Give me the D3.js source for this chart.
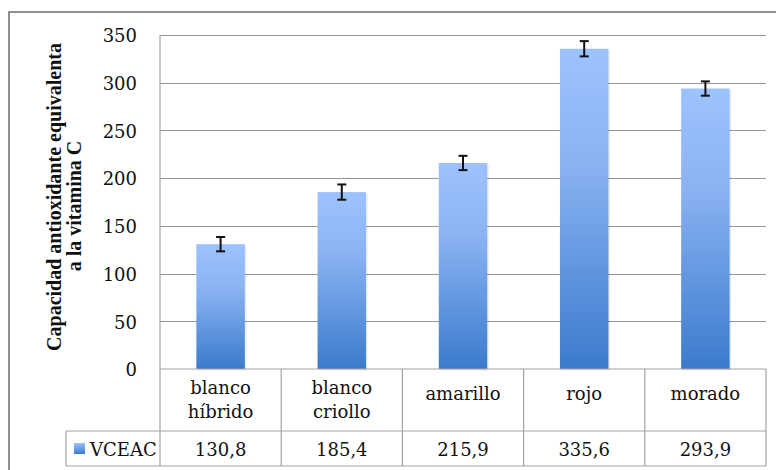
<!DOCTYPE html>
<html><head><meta charset="utf-8">
<script src="https://cdn.jsdelivr.net/npm/d3@7"></script>
<style>html,body{margin:0;padding:0;background:#fff;} svg{display:block;}</style>
</head><body>
<svg id="chart" width="776" height="470"></svg>
<script>
const categories = [["blanco","híbrido"],["blanco","criollo"],["amarillo"],["rojo"],["morado"]];
const values = [130.8, 185.4, 215.9, 335.6, 293.9];
const valueLabels = ["130,8","185,4","215,9","335,6","293,9"];
const errors = [7.5, 8, 7.5, 8, 7.5];
const yTicks = [0, 50, 100, 150, 200, 250, 300, 350];
const seriesName = "VCEAC";
const yTitle = ["Capacidad antioxidante equivalenta", "a la vitamina C"];

const svg = d3.select("#chart");
const pLeft = 160, pRight = 766, pTop = 35, pBottom = 369;
const row1 = 431, row2 = 466, legendLeft = 66;
const serif = "'DejaVu Serif', serif";
const gridColor = "#959595", lineColor = "#a3a3a3";

const keys = categories.map((c, i) => i);
const x = d3.scaleBand().domain(keys).range([pLeft, pRight]).paddingInner(0.6).paddingOuter(0.3);
const y = d3.scaleLinear().domain([0, 350]).range([pBottom, pTop]);
const step = x.step();
const colStart = i => pLeft + i * step;

const defs = svg.append("defs");
const grad = defs.append("linearGradient").attr("id", "barGrad")
  .attr("x1", 0).attr("y1", 0).attr("x2", 0).attr("y2", 1);
grad.append("stop").attr("offset", "0%").attr("stop-color", "#9dc3ff");
grad.append("stop").attr("offset", "35%").attr("stop-color", "#8bb3f3");
grad.append("stop").attr("offset", "100%").attr("stop-color", "#3b7bcc");
const lg = defs.append("linearGradient").attr("id", "legGrad")
  .attr("x1", 0).attr("y1", 0).attr("x2", 0).attr("y2", 1);
lg.append("stop").attr("offset", "0%").attr("stop-color", "#9dc3ff");
lg.append("stop").attr("offset", "100%").attr("stop-color", "#3b7bcc");

// outer frame (left and top visible)
svg.append("path").attr("d", "M9,470 L9,12 L776,12").attr("fill", "none")
  .attr("stroke", "#8f8f8f").attr("stroke-width", 2);

// gridlines
svg.append("g").selectAll("line").data(yTicks.filter(t => t > 0)).join("line")
  .attr("x1", pLeft).attr("x2", pRight)
  .attr("y1", d => Math.round(y(d)) + 0.5).attr("y2", d => Math.round(y(d)) + 0.5)
  .attr("stroke", gridColor).attr("stroke-width", 1.2);

// y tick labels via axis
const yAxis = svg.append("g").attr("transform", `translate(${pLeft},0)`)
  .call(d3.axisLeft(y).tickValues(yTicks).tickSize(0).tickPadding(23));
yAxis.select(".domain").remove();
yAxis.selectAll("text").attr("font-family", serif).attr("font-size", 18)
  .attr("fill", "#111").attr("dy", "0.38em");

// bars shadow
svg.append("g").selectAll("rect").data(values).join("rect")
  .attr("x", (d, i) => x(i) + 1.5).attr("y", d => y(d) + 1.5)
  .attr("width", x.bandwidth()).attr("height", d => pBottom - y(d))
  .attr("fill", "#000").attr("opacity", 0.08);
// bars
svg.append("g").selectAll("rect").data(values).join("rect")
  .attr("x", (d, i) => x(i)).attr("y", d => y(d))
  .attr("width", x.bandwidth()).attr("height", d => pBottom - y(d))
  .attr("fill", "url(#barGrad)");

// error bars
const eb = svg.append("g").attr("stroke", "#111").attr("stroke-width", 2);
values.forEach((v, i) => {
  const cx = x(i) + x.bandwidth() / 2;
  const y1 = y(v + errors[i]), y2 = y(v - errors[i]);
  eb.append("line").attr("x1", cx).attr("x2", cx).attr("y1", y1).attr("y2", y2);
  eb.append("line").attr("x1", cx - 4.5).attr("x2", cx + 4.5).attr("y1", y1).attr("y2", y1);
  eb.append("line").attr("x1", cx - 4.5).attr("x2", cx + 4.5).attr("y1", y2).attr("y2", y2);
});

// table lines
const tl = svg.append("g").attr("stroke", lineColor).attr("stroke-width", 1.2).attr("fill", "none");
tl.append("line").attr("x1", pLeft).attr("x2", pLeft).attr("y1", pTop).attr("y2", row2);
tl.append("line").attr("x1", pLeft).attr("x2", pRight).attr("y1", pBottom).attr("y2", pBottom);
tl.append("line").attr("x1", legendLeft).attr("x2", pRight).attr("y1", row1).attr("y2", row1);
tl.append("line").attr("x1", legendLeft).attr("x2", pRight).attr("y1", row2).attr("y2", row2);
tl.append("line").attr("x1", legendLeft).attr("x2", legendLeft).attr("y1", row1).attr("y2", row2);
keys.forEach(i => {
  const xe = colStart(i + 1);
  tl.append("line").attr("x1", xe).attr("x2", xe).attr("y1", pBottom).attr("y2", row2);
});

// category labels
const cl = svg.append("g").attr("font-family", serif).attr("font-size", 18)
  .attr("fill", "#111").attr("text-anchor", "middle");
categories.forEach((c, i) => {
  const cx = colStart(i) + step / 2;
  if (c.length === 1) {
    cl.append("text").attr("x", cx).attr("y", 400).text(c[0]);
  } else {
    cl.append("text").attr("x", cx).attr("y", 394).text(c[0]);
    cl.append("text").attr("x", cx).attr("y", 418).text(c[1]);
  }
});

// values row
const vl = svg.append("g").attr("font-family", serif).attr("font-size", 18)
  .attr("fill", "#111").attr("text-anchor", "middle");
valueLabels.forEach((v, i) => {
  vl.append("text").attr("x", colStart(i) + step / 2).attr("y", 456).text(v);
});

// legend
svg.append("rect").attr("x", 74).attr("y", 443).attr("width", 11).attr("height", 11)
  .attr("fill", "url(#legGrad)");
svg.append("text").attr("x", 90).attr("y", 456).attr("font-family", serif)
  .attr("font-size", 18).attr("fill", "#111").text(seriesName);

// y title
const yt = svg.append("text").attr("transform", `rotate(-90)`)
  .attr("font-family", "'Liberation Serif', serif").attr("font-weight", "bold")
  .attr("font-size", 20).attr("fill", "#111").attr("text-anchor", "middle");
yt.append("tspan").attr("x", -197).attr("y", 60.5).text(yTitle[0]);
yt.append("tspan").attr("x", -206).attr("y", 80.5).text(yTitle[1]);
</script>
</body></html>
